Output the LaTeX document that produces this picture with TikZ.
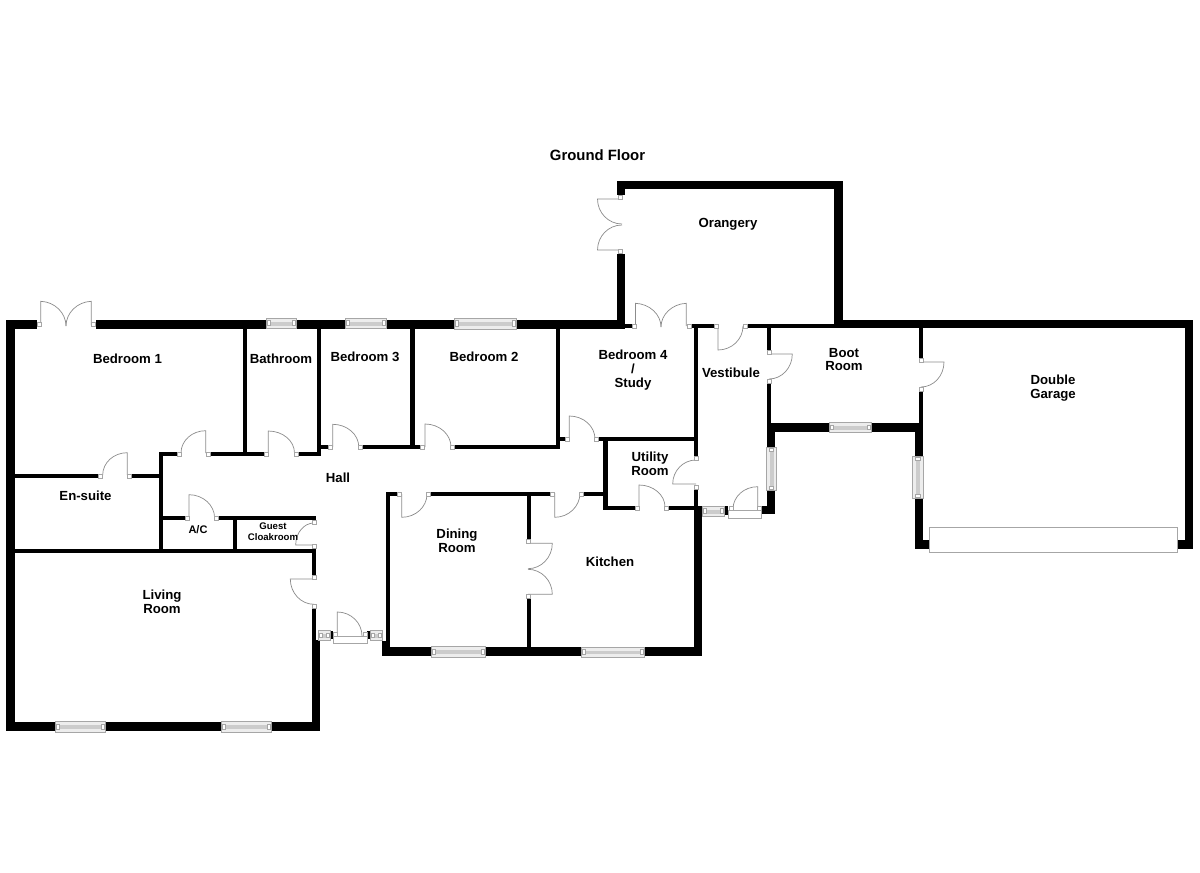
\documentclass[tikz,border=0pt]{standalone}
\usepackage{fontspec}
\setmainfont{Liberation Sans}
\usetikzlibrary{calc}
\definecolor{linegray}{gray}{0.55}
\definecolor{framegray}{gray}{0.65}
\definecolor{glass}{gray}{0.8}
\definecolor{pane}{gray}{0.93}
\tikzset{
  lbl/.style={font=\bfseries\fontsize{13.2}{13.8}\selectfont,align=center,inner sep=0pt,text=black},
  lblsmall/.style={font=\bfseries\fontsize{9.6}{11}\selectfont,align=center,inner sep=0pt,text=black},
  lblac/.style={font=\bfseries\fontsize{11}{12}\selectfont,inner sep=0pt,text=black},
  lbltitle/.style={font=\bfseries\fontsize{14.9}{16}\selectfont,align=center,inner sep=0pt,text=black},
  doorline/.style={draw=linegray,line width=0.7pt},
  frame/.style={draw=framegray,fill=white,line width=0.6pt},
  winframe/.style={draw=framegray,fill=pane,line width=0.6pt},
  glassbar/.style={fill=glass}
}
% wall: x1 y1 x2 y2
\newcommand{\wal}[4]{\fill[black] (#1,#2) rectangle (#3,#4);}
% door-frame square centred at x y
\newcommand{\sq}[2]{\draw[frame] ($(#1,#2)+(-2,-2)$) rectangle ($(#1,#2)+(2,2)$);}
% door: hinge, leaf end, arc tip
\newcommand{\dr}[6]{\draw[doorline] (#1,#2) -- (#3,#4)
  .. controls ($(#3,#4)+0.5523*(#5,#6)-0.5523*(#1,#2)$) and ($(#5,#6)+0.5523*(#3,#4)-0.5523*(#1,#2)$) .. (#5,#6);}
% horizontal window x1 x2 y1 y2
\newcommand{\winH}[4]{\draw[winframe] (#1,#3) rectangle (#2,#4);
  \fill[glassbar] ($(#1,#3)+(4,3.5)$) rectangle ($(#2,#4)+(-4,-3)$);
  \draw[frame] ($(#1,#3)+(1,2.4)$) rectangle ($(#1,#4)+(4,-3)$);
  \draw[frame] ($(#2,#3)+(-4,2.4)$) rectangle ($(#2,#4)+(-1,-3)$);}
% vertical window x1 x2 y1 y2
\newcommand{\winV}[4]{\draw[winframe] (#1,#3) rectangle (#2,#4);
  \fill[glassbar] ($(#1,#3)+(3.5,4)$) rectangle ($(#2,#4)+(-3,-4)$);
  \draw[frame] ($(#1,#3)+(2.4,1)$) rectangle ($(#2,#3)+(-3,4)$);
  \draw[frame] ($(#1,#4)+(2.4,-4)$) rectangle ($(#2,#4)+(-3,-1)$);}
\begin{document}
\begin{tikzpicture}[x=1pt,y=-1pt]
\useasboundingbox (0,0) rectangle (1200,873);
\fill[white] (0,0) rectangle (1200,873);

% ---------- outer walls
\wal{6}{320}{36.7}{328.7}
\wal{95.5}{320}{625}{328.5}
\wal{6}{320}{14.7}{730.7}
\wal{6}{721.7}{320}{730.7}
\wal{311.7}{640}{320}{730.7}
\wal{625}{324.2}{632.7}{328.3}
\wal{691}{324.2}{714}{328.3}
\wal{747.3}{324.2}{834}{328.3}
\wal{834}{320}{1193.3}{328.3}
\wal{1185.3}{320}{1193.3}{548.7}
\wal{1177.7}{540}{1193.3}{548.7}
% orangery
\wal{616.7}{181}{842.6}{189.3}
\wal{834}{181}{842.6}{328}
\wal{616.7}{181}{625}{195}
\wal{616.7}{253.7}{625}{328}
% bedrooms partitions
\wal{242.7}{328}{247.3}{456}
\wal{316.7}{328}{320.7}{456.3}
\wal{410.3}{328}{414.7}{449}
\wal{555.7}{328}{560}{449.3}
\wal{694}{328}{698}{456}
% hall top wall
\wal{159}{452.3}{177}{456.3}
\wal{210}{452.3}{264.3}{456.3}
\wal{298}{452.3}{320.7}{456.3}
\wal{320.7}{445}{328.7}{449.3}
\wal{362.3}{445.3}{420.7}{449.3}
\wal{454}{445.3}{560}{449.3}
\wal{560}{437.3}{565}{441.3}
\wal{598.7}{437.3}{698}{441.3}
% en-suite and hall left
\wal{159}{452.3}{163.3}{553}
\wal{14.7}{473.7}{98.7}{478}
\wal{131.7}{473.7}{159}{478}
\wal{14.7}{548.7}{316}{553}
\wal{163.3}{515.7}{185}{520}
\wal{218.3}{515.7}{316}{520}
\wal{232.7}{520}{237.3}{549}
\wal{311.7}{553}{316}{575}
\wal{311.7}{608.7}{316}{640}
% dining room / kitchen
\wal{385.7}{491.7}{390}{647}
\wal{381.7}{640.7}{390}{655.5}
\wal{381.7}{647}{702.3}{655.5}
\wal{385.7}{491.7}{397.7}{496}
\wal{430.7}{491.7}{550.7}{496}
\wal{583.3}{491.7}{603.3}{496}
\wal{526.7}{496}{530.7}{539.3}
\wal{526.7}{598.3}{530.7}{647}
\wal{694}{506}{702.3}{655.5}
% utility
\wal{603.3}{437.3}{607.7}{510}
\wal{603.3}{506}{635}{510}
\wal{667.7}{506}{698}{510}
\wal{694}{489.3}{698}{507}
% vestibule / boot room
\wal{766.7}{328}{771}{350}
\wal{766.7}{383.3}{771}{423.3}
\wal{766.7}{423.3}{923}{431.7}
\wal{766.7}{431.7}{775.3}{447.3}
\wal{767.3}{490}{775.3}{514.3}
\wal{762}{506}{775.3}{514.3}
\wal{724}{506}{728.3}{515}
\wal{918.7}{328}{923}{358.3}
\wal{918.7}{391}{923}{423.3}
\wal{914.7}{423.3}{923}{456}
\wal{914.7}{498.3}{923}{548.7}
\wal{914.7}{540}{929.3}{548.7}
% front door stubs
\wal{330.7}{631.3}{333.3}{639.3}
\wal{366.7}{631.3}{370}{639.3}

% ---------- windows
\winH{266.7}{296.7}{318}{328.7}
\winH{345}{386}{318}{328.7}
\winH{454}{516.7}{318}{329}
\winH{55.3}{105.3}{721.5}{732}
\winH{221.7}{271}{721.5}{732}
\winH{431}{485.7}{646.7}{657.3}
\winH{581.7}{644.7}{647.3}{657.3}
\winH{829.3}{871.7}{422.7}{432.7}
\winH{702.3}{724}{506}{516.7}
\winH{318}{330.7}{630.7}{640.7}
\winH{370}{382.7}{630.7}{640.7}
\winV{766.7}{776.7}{447.3}{490}
\winV{912.7}{923.3}{456}{498.3}

% ---------- garage door and door thresholds
\draw[frame] (929.3,527.3) rectangle (1177.7,552.7);
\draw[frame] (333.3,636.7) rectangle (367.3,643.3);
\draw[frame] (728.3,510.7) rectangle (761.7,518.7);

% ---------- doors (hinge, leaf end, arc tip)
\dr{40.8}{325}{40.8}{301.3}{66}{326}
\dr{91.2}{325}{91.2}{301.3}{66}{326}
\dr{205.7}{453}{205.7}{430.7}{181}{453}
\dr{268.3}{453}{268.3}{431}{294.5}{453}
\dr{332.7}{447}{332.7}{424.3}{358.8}{447}
\dr{425}{447}{425}{424}{451}{447}
\dr{569.3}{439}{569.3}{416}{595}{439}
\dr{127.3}{475}{127.3}{452.7}{102.7}{475}
\dr{189}{518}{189}{494.7}{214.6}{518}
\dr{314}{545}{295.7}{545}{314}{523}
\dr{314}{579}{290.3}{579}{314}{604.3}
\dr{337.3}{636}{337.3}{612}{362}{636}
\dr{401.7}{494}{401.7}{517.3}{427}{494}
\dr{528}{543.3}{552.3}{543.3}{528}{568.7}
\dr{528}{594.3}{552.3}{594.3}{528}{569.3}
\dr{554.7}{493}{554.7}{517.3}{580}{493}
\dr{639}{507}{639}{485}{665}{507}
\dr{696}{484}{672.7}{484}{696}{460}
\dr{757.7}{509}{757.7}{486.7}{733}{509}
\dr{718}{326}{718}{350}{743}{326}
\dr{769}{354}{792.3}{354}{769}{379}
\dr{921}{362}{944}{362}{921}{387}
\dr{622}{199}{597.5}{199}{622}{224}
\dr{622}{250}{597.5}{250}{622}{225}
\dr{635.5}{326}{635.5}{303.3}{661}{327}
\dr{686.3}{326}{686.3}{303.3}{661}{327}

% ---------- door-frame squares
\sq{38.8}{324.5}\sq{93.3}{324.5}
\sq{179}{454.3}\sq{207.9}{454.3}
\sq{266.3}{454.3}\sq{296}{454.3}
\sq{330.7}{447.2}\sq{360.3}{447.2}
\sq{422.7}{447.3}\sq{452}{447.3}
\sq{567.2}{439.3}\sq{596.5}{439.3}
\sq{100.7}{475.8}\sq{129.5}{475.8}
\sq{187}{517.8}\sq{216.3}{517.8}
\sq{313.8}{522.2}\sq{313.8}{546.5}
\sq{313.8}{577.2}\sq{313.8}{606.5}
\sq{399.7}{493.8}\sq{428.7}{493.8}
\sq{552.7}{493.8}\sq{581.3}{493.8}
\sq{528.7}{541.3}\sq{528.7}{596.3}
\sq{637}{508}\sq{666}{508}
\sq{696}{458}\sq{696}{487.2}
\sq{716}{326.2}\sq{745.3}{326.2}
\sq{768.8}{352.2}\sq{768.8}{381.3}
\sq{920.8}{360.3}\sq{920.8}{389}
\sq{620.7}{197.2}\sq{620.7}{251.5}
\sq{634.7}{326.2}\sq{688.9}{326.2}
\sq{335}{634.5}\sq{365.3}{634.5}
\sq{731}{508.5}\sq{759.7}{508.5}

% ---------- labels
\node[lbltitle] (title) at (597.5,155.5) {Ground Floor};
\node[lbl] (bed1) at (127.5,359) {Bedroom 1};
\node[lbl] (bath) at (281,359) {Bathroom};
\node[lbl] (bed3) at (365,357) {Bedroom 3};
\node[lbl] (bed2) at (484,357) {Bedroom 2};
\node[lbl] (bed4) at (633,370) {Bedroom 4\\/\\Study};
\node[lbl] (orangery) at (728,224) {Orangery};
\node[lbl] (vest) at (731,372.5) {Vestibule};
\node[lbl] (boot) at (844,359.5) {Boot\\Room};
\node[lbl] (garage) at (1053,388.5) {Double\\Garage};
\node[lbl] (hall) at (338,477.5) {Hall};
\node[lbl] (ensuite) at (85.5,495.5) {En-suite};
\node[lblac] (ac) at (198,529.5) {A/C};
\node[lblsmall] (cloak) at (273,531.5) {Guest\\Cloakroom};
\node[lbl] (dining) at (457,540.5) {Dining\\Room};
\node[lbl] (kitchen) at (610,561.5) {Kitchen};
\node[lbl] (utility) at (650,464) {Utility\\Room};
\node[lbl] (living) at (162,601.5) {Living\\Room};
\end{tikzpicture}
\end{document}
